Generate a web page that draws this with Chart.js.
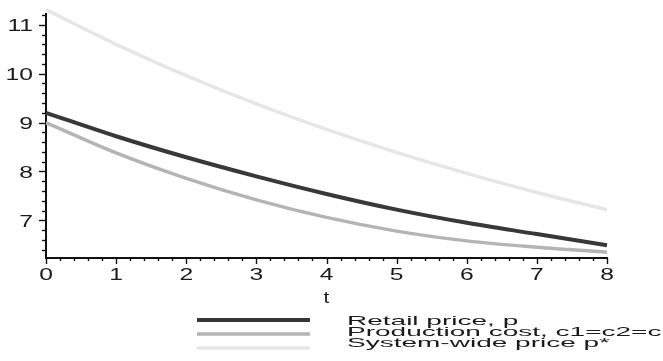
<!DOCTYPE html>
<html>
<head>
<meta charset="utf-8">
<script src="https://cdn.jsdelivr.net/npm/chart.js@4.4.1/dist/chart.umd.min.js"></script>
<style>
  html, body { margin: 0; padding: 0; background: #fff; }
  #wrap { width: 663px; height: 361px; }
</style>
</head>
<body>
<div id="wrap"><canvas id="c" width="663" height="361"></canvas></div>
<script>
// Time points and the three price paths
const tValues = [0, 1, 2, 3, 4, 5, 6, 7, 8];
const retailPrice = [9.20, 8.72, 8.29, 7.90, 7.54, 7.22, 6.95, 6.72, 6.49];
const productionCost = [9.00, 8.38, 7.86, 7.42, 7.06, 6.78, 6.58, 6.45, 6.35];
const systemPrice = [11.31, 10.60, 9.96, 9.38, 8.86, 8.39, 7.96, 7.57, 7.22];
const seriesNames = ['Retail price, p', 'Production cost, c1=c2=c', 'System-wide price p*'];
const xTickLabels = ['0', '1', '2', '3', '4', '5', '6', '7', '8'];
const yTickLabels = ['7', '8', '9', '10', '11'];
const xAxisTitle = 't';

const FONT = '"Liberation Sans", Arial, sans-serif';

function pts(ys) {
  return tValues.map((t, i) => ({ x: t, y: ys[i] }));
}

// horizontally widened text, as the plot's lettering is
function wideText(ctx, text, x, y, sx, align, size) {
  ctx.save();
  ctx.font = size + 'px ' + FONT;
  ctx.translate(x, y);
  ctx.scale(sx, 1);
  ctx.textAlign = align;
  ctx.textBaseline = 'alphabetic';
  ctx.fillText(text, 0, 0);
  ctx.restore();
}

const axisDecor = {
  id: 'axisDecor',
  afterDraw(chart) {
    const ctx = chart.ctx;
    const xs = chart.scales.x, ys = chart.scales.y;
    const left = chart.chartArea.left, bottom = chart.chartArea.bottom;
    ctx.save();
    ctx.strokeStyle = '#111';
    ctx.lineWidth = 1.4;
    // y tick marks: majors at whole numbers, minors every 0.2
    for (let i = Math.ceil(ys.min * 5); i <= Math.floor(ys.max * 5 + 1e-6); i++) {
      const y = Math.round(ys.getPixelForValue(i / 5)) + 0.5;
      const len = i % 5 === 0 ? 7 : 4;
      ctx.beginPath(); ctx.moveTo(left - len, y); ctx.lineTo(left, y); ctx.stroke();
    }
    // x tick marks
    for (let i = 0; i <= 40; i++) {
      const x = Math.round(xs.getPixelForValue(i / 5)) + 0.5;
      const len = i % 5 === 0 ? 6 : 3;
      ctx.beginPath(); ctx.moveTo(x, bottom); ctx.lineTo(x, bottom + len); ctx.stroke();
    }
    ctx.fillStyle = '#1a1a1a';
    yTickLabels.forEach(l => {
      const y = ys.getPixelForValue(Number(l));
      wideText(ctx, l, 33, y + 6.5, 1.45, 'right', 17);
    });
    xTickLabels.forEach(l => {
      const x = xs.getPixelForValue(Number(l));
      wideText(ctx, l, x, 279.5, 1.45, 'center', 17);
    });
    wideText(ctx, xAxisTitle, xs.getPixelForValue(4), 303, 1.3, 'center', 16);

    // legend: sample line + label for each series
    const rows = [
      { ly: 320, ty: 324.5 },
      { ly: 334, ty: 335.5 },
      { ly: 348, ty: 346.8 }
    ];
    chart.data.datasets.forEach((ds, i) => {
      ctx.strokeStyle = ds.borderColor;
      ctx.lineWidth = ds.borderWidth;
      ctx.beginPath(); ctx.moveTo(197, rows[i].ly); ctx.lineTo(310, rows[i].ly); ctx.stroke();
      ctx.fillStyle = '#1a1a1a';
      wideText(ctx, ds.label, 347, rows[i].ty, 2.06, 'left', 13.6);
    });
    ctx.restore();
  }
};

new Chart(document.getElementById('c'), {
  type: 'line',
  data: {
    datasets: [
      { label: seriesNames[0], data: pts(retailPrice), borderColor: '#383838', borderWidth: 4 },
      { label: seriesNames[1], data: pts(productionCost), borderColor: '#b4b4b4', borderWidth: 3.5 },
      { label: seriesNames[2], data: pts(systemPrice), borderColor: '#e6e6e6', borderWidth: 3.5 }
    ]
  },
  options: {
    responsive: false,
    animation: false,
    devicePixelRatio: 1,
    clip: false,
    elements: {
      point: { radius: 0 },
      line: { cubicInterpolationMode: 'monotone', fill: false }
    },
    layout: { padding: { left: 46, right: 56, top: 14, bottom: 103 } },
    plugins: { legend: { display: false }, tooltip: { enabled: false } },
    scales: {
      x: {
        type: 'linear', min: 0, max: 8,
        grid: { display: false },
        border: { display: true, color: '#111', width: 2 },
        ticks: { display: false },
        afterFit(s) { s.height = 0; }
      },
      y: {
        type: 'linear', min: 6.23, max: 11.22,
        grid: { display: false },
        border: { display: true, color: '#111', width: 2 },
        ticks: { display: false },
        afterFit(s) { s.width = 0; }
      }
    }
  },
  plugins: [axisDecor]
});
</script>
</body>
</html>
